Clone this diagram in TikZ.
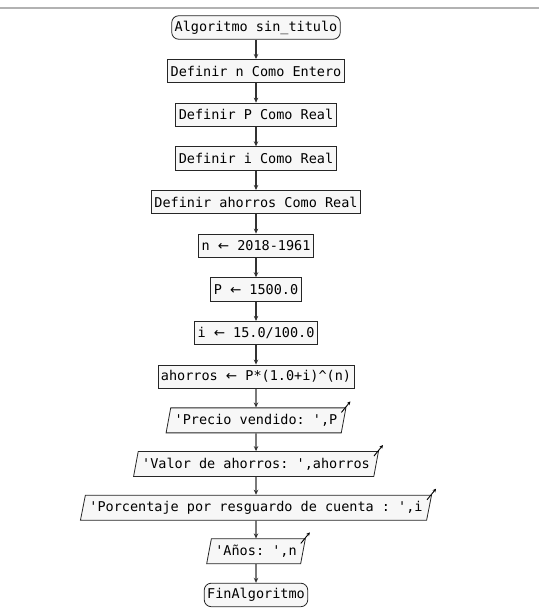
\documentclass[tikz,border=0pt]{standalone}
\usepackage{fontspec}
\setmonofont{DejaVu Sans Mono}
\newfontfamily\flechafont{DejaVu Sans}
\usetikzlibrary{arrows.meta,shapes.geometric,positioning}
\newcommand{\asig}{{\flechafont ←}}

\begin{document}
\begin{tikzpicture}[x=1pt, y=1pt, ->, >={Stealth[length=5pt,width=4.5pt]}, node distance=43.65pt, line width=1pt]
\tikzstyle{proc}=[draw=black!85, fill=black!3, rectangle, text=black, line width=0.8pt, font=\ttfamily\fontsize{13.5}{15}\selectfont, inner xsep=3pt, inner ysep=2pt, minimum height=23.5pt]
\tikzstyle{term}=[proc, rounded corners=7pt]
\tikzstyle{salida}=[proc, trapezium, trapezium left angle=74, trapezium right angle=106, trapezium stretches body, minimum height=25pt, inner xsep=4pt]
\tikzstyle{flecha}=[black!80, line width=1.3pt]
\tikzstyle{icono}=[->, >={Stealth[length=3.5pt,width=3.5pt]}, line width=0.9pt, black]

\useasboundingbox (0,0) rectangle (539,-609);
\draw[-, black!30, line width=1.5pt] (0,-8) -- (539,-8);

\node[term]	(inicio) at (256,-27.5)	{Algoritmo sin\_titulo};
\node[proc]	(defn)	[below of=inicio]	{Definir n Como Entero};
\node[proc]	(defP)	[below of=defn]	{Definir P Como Real};
\node[proc]	(defi)	[below of=defP]	{Definir i Como Real};
\node[proc]	(defah)	[below of=defi]	{Definir ahorros Como Real};
\node[proc]	(asn)	[below of=defah]	{n \asig{} 2018-1961};
\node[proc]	(asP)	[below of=asn]	{P \asig{} 1500.0};
\node[proc]	(asi)	[below of=asP]	{i \asig{} 15.0/100.0};
\node[proc]	(asah)	[below of=asi]	{ahorros \asig{} P*(1.0+i)\textasciicircum(n)};
\node[salida]	(esc1)	[below of=asah]	{'Precio vendido: ',P};
\node[salida]	(esc2)	[below of=esc1]	{'Valor de ahorros: ',ahorros};
\node[salida]	(esc3)	[below of=esc2]	{'Porcentaje por resguardo de cuenta : ',i};
\node[salida]	(esc4)	[below of=esc3]	{'Años: ',n};
\node[term]	(fin)	[below of=esc4]	{FinAlgoritmo};

\path[flecha]
	(inicio)	edge	(defn)
	(defn)	edge	(defP)
	(defP)	edge	(defi)
	(defi)	edge	(defah)
	(defah)	edge	(asn)
	(asn)	edge	(asP)
	(asP)	edge	(asi)
	(asi)	edge	(asah)
	(asah)	edge	(esc1)
	(esc1)	edge	(esc2)
	(esc2)	edge	(esc3)
	(esc3)	edge	(esc4)
	(esc4)	edge	(fin)
;

% flechitas de salida
\foreach \s in {esc1,esc2,esc3,esc4}
	\draw[icono] ([xshift=-5pt,yshift=-5pt]\s.top right corner) -- ([xshift=4pt,yshift=6pt]\s.top right corner);

\end{tikzpicture}
\end{document}
